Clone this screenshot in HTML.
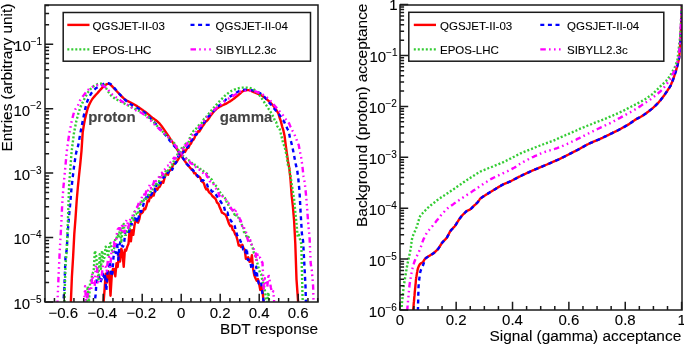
<!DOCTYPE html>
<html><head><meta charset="utf-8"><style>
html,body{margin:0;padding:0;background:#fff;width:684px;height:345px;overflow:hidden;position:relative}
</style></head><body>
<svg width="684" height="345" viewBox="0 0 684 345" style="position:absolute;left:0;top:0;will-change:transform">
<rect width="684" height="345" fill="#fff"/>
<defs>
<clipPath id="cl"><rect x="45.0" y="5.0" width="273.0" height="297.0"/></clipPath>
<clipPath id="cr"><rect x="400.0" y="5.0" width="282.0" height="305.0"/></clipPath>
</defs>
<g clip-path="url(#cl)">
<polyline points="70.7,306.0 71.9,276.7 73.1,257.0 74.3,233.9 75.5,218.3 76.7,200.5 77.9,186.6 79.1,174.8 80.3,163.5 81.5,150.8 82.7,132.4 83.9,124.8 85.1,118.6 86.3,113.6 87.5,109.2 88.7,105.8 89.9,103.2 91.1,101.0 92.3,99.0 93.5,97.5 94.7,96.1 95.9,94.8 97.1,93.5 98.3,92.1 99.5,90.7 100.7,89.4 101.9,88.1 103.1,86.9 104.3,85.8 105.5,84.9 106.7,84.2 107.9,83.9 109.1,83.9 110.3,84.5 111.5,85.6 112.7,86.9 113.9,88.2 115.1,89.5 116.3,90.7 117.5,92.0 118.7,93.3 119.9,94.6 121.1,95.9 122.3,97.0 123.5,98.1 124.7,99.1 125.9,100.0 127.1,100.8 128.3,101.4 129.5,102.0 130.7,102.6 131.9,103.2 133.1,103.9 134.3,104.5 135.5,105.2 136.7,105.9 137.9,106.8 139.1,107.6 140.3,108.4 141.5,109.3 142.7,110.1 143.9,111.0 145.1,111.8 146.3,112.7 147.5,113.7 148.7,114.7 149.9,115.7 151.1,116.8 152.3,117.7 153.5,118.5 154.7,119.4 155.9,120.3 157.1,121.2 158.3,122.3 159.5,123.4 160.7,124.9 161.9,126.5 163.1,128.2 164.3,129.9 165.5,131.6 166.7,133.4 167.9,135.2 169.1,137.0 170.3,138.8 171.5,140.6 172.7,142.4 173.9,144.3 175.1,146.3 176.3,148.2 177.5,150.1 178.7,151.9 179.9,154.2 181.1,155.2 182.3,157.4 183.5,159.1 184.7,160.9 185.9,162.5 187.1,164.0 188.3,165.8 189.5,166.9 190.7,168.4 191.9,169.2 193.1,171.2 194.3,173.3 195.5,173.2 196.7,175.6 197.9,176.8 199.1,176.5 200.3,177.8 201.5,181.0 202.7,182.0 203.9,183.3 205.1,187.1 206.3,189.4 207.5,188.8 208.7,191.8 209.9,193.1 211.1,194.0 212.3,196.0 213.5,197.0 214.7,198.1 215.9,199.6 217.1,202.8 218.3,203.5 219.5,206.7 220.7,209.4 221.9,212.7 223.1,213.1 224.3,214.0 225.5,214.7 226.7,217.1 227.9,220.5 229.1,224.0 230.3,226.1 231.5,225.7 232.7,229.9 233.9,230.9 235.1,234.2 236.3,235.9 237.5,240.3 238.7,245.5 239.9,245.2 241.1,247.0 242.3,244.7 243.5,248.3 244.7,249.5 245.9,258.9 247.1,258.1 248.3,257.3 249.5,261.8 250.7,261.4 251.9,255.1 253.1,268.9 254.3,275.3 255.5,278.3 256.7,280.8 257.9,279.1 259.1,283.5 260.3,290.0 261.5,286.6 262.7,292.6 263.9,306.0 264.0,306.0" fill="none" stroke="#ff0000" stroke-width="2.4" stroke-linejoin="round" stroke-linecap="butt"/>
<polyline points="100.9,306.0 102.1,306.0 103.3,306.0 104.5,290.7 105.7,273.7 106.9,282.6 108.1,271.2 109.3,273.7 110.5,295.8 111.7,276.4 112.9,269.0 114.1,269.0 115.3,276.4 116.5,263.2 117.7,266.9 118.9,254.3 120.1,261.5 121.3,248.6 122.5,253.0 123.7,266.9 124.9,249.6 126.1,250.7 127.3,246.6 128.5,243.8 129.7,229.1 130.9,241.3 132.1,230.2 133.3,234.9 134.5,225.3 135.7,220.3 136.9,221.5 138.1,222.7 139.3,219.2 140.5,213.0 141.7,213.3 142.9,211.9 144.1,208.5 145.3,209.2 146.5,205.7 147.7,200.6 148.9,201.3 150.1,195.5 151.3,197.4 152.5,194.5 153.7,195.6 154.9,190.3 156.1,188.5 157.3,189.8 158.5,187.5 159.7,186.7 160.9,184.3 162.1,181.7 163.3,182.7 164.5,178.2 165.7,174.8 166.9,173.4 168.1,174.8 169.3,170.4 170.5,170.3 171.7,168.8 172.9,165.2 174.1,163.8 175.3,162.9 176.5,162.2 177.7,160.2 178.9,158.2 180.1,155.7 181.3,155.6 182.5,153.0 183.7,150.0 184.9,152.0 186.1,150.1 187.3,147.9 188.5,147.8 189.7,144.8 190.9,143.7 192.1,140.8 193.3,140.0 194.5,137.9 195.7,134.8 196.9,134.1 198.1,131.2 199.3,131.5 200.5,129.7 201.7,127.6 202.9,125.7 204.1,124.2 205.3,122.1 206.5,121.3 207.7,120.0 208.9,118.4 210.1,116.3 211.3,114.7 212.5,113.2 213.7,111.8 214.9,110.5 216.1,109.3 217.3,108.2 218.5,107.4 219.7,106.7 220.9,106.1 222.1,105.5 223.3,105.0 224.5,104.4 225.7,103.9 226.9,103.2 228.1,102.5 229.3,101.8 230.5,101.1 231.7,100.3 232.9,99.4 234.1,98.5 235.3,97.5 236.5,96.6 237.7,95.6 238.9,94.5 240.1,93.5 241.3,92.4 242.5,91.4 243.7,90.8 244.9,90.4 246.1,90.2 247.3,90.1 248.5,90.1 249.7,90.4 250.9,90.8 252.1,91.4 253.3,91.9 254.5,92.5 255.7,93.0 256.9,93.5 258.1,94.0 259.3,94.5 260.5,95.0 261.7,95.5 262.9,96.3 264.1,97.2 265.3,98.1 266.5,99.1 267.7,100.1 268.9,101.2 270.1,102.4 271.3,103.6 272.5,104.8 273.7,106.2 274.9,107.9 276.1,109.7 277.3,111.6 278.5,113.8 279.7,118.0 280.9,121.4 282.1,126.3 283.3,130.1 284.5,135.4 285.7,145.0 286.9,153.7 288.1,161.8 289.3,168.3 290.5,179.4 291.7,195.9 292.9,206.6 294.1,220.7 295.3,243.8 296.5,279.3 297.7,295.8 298.4,306.0" fill="none" stroke="#ff0000" stroke-width="2.4" stroke-linejoin="round" stroke-linecap="butt"/>
<polyline points="63.1,306.0 64.3,290.0 65.5,257.3 66.7,249.8 67.9,230.2 69.1,215.2 70.3,203.0 71.5,188.0 72.7,177.7 73.9,167.6 75.1,159.2 76.3,152.1 77.5,148.5 78.7,142.9 79.9,135.6 81.1,129.2 82.3,123.1 83.5,117.1 84.7,111.1 85.9,106.1 87.1,101.8 88.3,99.0 89.5,96.5 90.7,94.2 91.9,92.5 93.1,91.0 94.3,89.7 95.5,88.6 96.7,87.8 97.9,87.0 99.1,86.3 100.3,85.7 101.5,85.1 102.7,84.5 103.9,83.9 105.1,83.5 106.3,83.2 107.5,83.1 108.7,83.3 109.9,83.7 111.1,84.5 112.3,85.6 113.5,87.0 114.7,88.4 115.9,89.8 117.1,91.3 118.3,92.6 119.5,94.0 120.7,95.3 121.9,96.6 123.1,97.9 124.3,99.1 125.5,100.2 126.7,101.3 127.9,102.3 129.1,103.3 130.3,104.1 131.5,104.7 132.7,105.4 133.9,106.0 135.1,106.6 136.3,107.3 137.5,108.0 138.7,108.7 139.9,109.4 141.1,110.2 142.3,111.0 143.5,111.8 144.7,112.7 145.9,113.5 147.1,114.6 148.3,115.8 149.5,117.2 150.7,118.5 151.9,119.8 153.1,121.0 154.3,122.2 155.5,123.5 156.7,124.9 157.9,126.5 159.1,127.9 160.3,129.3 161.5,130.7 162.7,132.0 163.9,133.3 165.1,134.6 166.3,136.1 167.5,137.7 168.7,139.2 169.9,140.8 171.1,142.3 172.3,143.7 173.5,145.1 174.7,146.4 175.9,147.8 177.1,149.3 178.3,151.0 179.5,152.7 180.7,153.8 181.9,156.4 183.1,158.4 184.3,159.8 185.5,162.5 186.7,164.1 187.9,165.0 189.1,166.1 190.3,167.7 191.5,169.6 192.7,169.8 193.9,171.3 195.1,173.6 196.3,174.6 197.5,175.5 198.7,177.7 199.9,178.7 201.1,180.7 202.3,180.2 203.5,180.4 204.7,181.9 205.9,183.8 207.1,184.5 208.3,188.6 209.5,189.3 210.7,189.8 211.9,191.5 213.1,191.7 214.3,194.2 215.5,194.2 216.7,195.8 217.9,197.7 219.1,199.1 220.3,201.0 221.5,202.9 222.7,204.8 223.9,206.1 225.1,211.2 226.3,213.0 227.5,212.5 228.7,217.7 229.9,219.1 231.1,220.9 232.3,222.9 233.5,224.0 234.7,226.0 235.9,230.8 237.1,234.9 238.3,237.4 239.5,238.3 240.7,241.8 241.9,242.4 243.1,249.5 244.3,249.5 245.5,252.5 246.7,248.1 247.9,260.1 249.1,260.1 250.3,261.0 251.5,269.4 252.7,265.1 253.9,268.9 255.1,276.7 256.3,266.7 257.5,278.3 258.7,283.5 259.9,283.5 261.1,281.7 262.3,292.6 263.5,300.2 264.0,306.0" fill="none" stroke="#0000ff" stroke-width="2.4" stroke-linejoin="round" stroke-linecap="butt" stroke-dasharray="4 3.6"/>
<polyline points="94.3,306.0 95.5,295.8 96.7,279.3 97.9,279.3 99.1,276.4 100.3,282.6 101.5,279.3 102.7,273.7 103.9,279.3 105.1,273.7 106.3,290.7 107.5,271.2 108.7,269.0 109.9,261.5 111.1,276.4 112.3,273.7 113.5,257.0 114.7,251.8 115.9,253.0 117.1,242.1 118.3,259.9 119.5,244.7 120.7,241.3 121.9,245.6 123.1,246.6 124.3,241.3 125.5,230.2 126.7,229.7 127.9,231.9 129.1,231.9 130.3,224.4 131.5,224.0 132.7,224.4 133.9,222.3 135.1,216.5 136.3,216.1 137.5,222.3 138.7,217.1 139.9,211.3 141.1,211.9 142.3,209.7 143.5,204.1 144.7,201.7 145.9,197.5 147.1,200.2 148.3,195.3 149.5,192.8 150.7,195.1 151.9,193.8 153.1,189.5 154.3,188.8 155.5,191.4 156.7,183.6 157.9,181.0 159.1,182.3 160.3,183.3 161.5,180.1 162.7,179.3 163.9,176.3 165.1,176.8 166.3,175.7 167.5,173.2 168.7,171.9 169.9,169.7 171.1,167.8 172.3,169.7 173.5,166.4 174.7,164.4 175.9,162.7 177.1,160.0 178.3,156.4 179.5,154.1 180.7,151.9 181.9,153.2 183.1,152.3 184.3,151.2 185.5,150.2 186.7,148.3 187.9,146.5 189.1,145.3 190.3,143.4 191.5,140.4 192.7,138.9 193.9,137.2 195.1,134.8 196.3,134.7 197.5,132.3 198.7,129.8 199.9,128.7 201.1,127.6 202.3,124.3 203.5,123.1 204.7,121.7 205.9,120.4 207.1,118.1 208.3,116.5 209.5,115.7 210.7,114.3 211.9,113.0 213.1,111.6 214.3,110.3 215.5,109.0 216.7,107.7 217.9,106.5 219.1,105.5 220.3,104.7 221.5,103.8 222.7,102.9 223.9,101.8 225.1,100.5 226.3,99.2 227.5,98.3 228.7,97.4 229.9,96.6 231.1,95.9 232.3,95.1 233.5,94.3 234.7,93.6 235.9,92.9 237.1,92.2 238.3,91.5 239.5,90.9 240.7,90.5 241.9,90.2 243.1,90.0 244.3,89.8 245.5,89.6 246.7,89.5 247.9,89.6 249.1,89.7 250.3,89.9 251.5,90.1 252.7,90.4 253.9,90.7 255.1,91.1 256.3,91.5 257.5,92.0 258.7,92.5 259.9,93.1 261.1,93.9 262.3,94.8 263.5,95.9 264.7,97.2 265.9,98.5 267.1,100.0 268.3,101.4 269.5,102.9 270.7,104.3 271.9,105.8 273.1,107.2 274.3,108.7 275.5,110.1 276.7,111.6 277.9,113.0 279.1,114.5 280.3,116.0 281.5,118.3 282.7,120.2 283.9,121.1 285.1,123.9 286.3,126.2 287.5,129.1 288.7,130.8 289.9,137.6 291.1,141.8 292.3,146.5 293.5,152.5 294.7,158.7 295.9,164.9 297.1,169.6 298.3,178.6 299.5,191.4 300.7,213.9 301.9,233.6 303.1,241.3 304.3,263.2 305.5,286.3 306.0,306.0" fill="none" stroke="#0000ff" stroke-width="2.4" stroke-linejoin="round" stroke-linecap="butt" stroke-dasharray="4 3.6"/>
<polyline points="64.3,306.0 65.5,265.1 66.7,251.5 67.9,221.8 69.1,185.5 70.3,169.4 71.5,152.8 72.7,143.0 73.9,133.5 75.1,127.1 76.3,121.3 77.5,116.6 78.7,112.2 79.9,108.8 81.1,105.7 82.3,103.1 83.5,100.7 84.7,98.3 85.9,96.1 87.1,93.9 88.3,91.8 89.5,90.2 90.7,88.9 91.9,87.7 93.1,86.7 94.3,85.8 95.5,85.2 96.7,84.6 97.9,84.0 99.1,83.7 100.3,83.6 101.5,83.7 102.7,83.9 103.9,84.7 105.1,86.3 106.3,88.5 107.5,90.6 108.7,92.4 109.9,94.0 111.1,95.5 112.3,96.8 113.5,97.6 114.7,98.4 115.9,99.1 117.1,99.8 118.3,100.4 119.5,101.0 120.7,101.6 121.9,102.3 123.1,102.9 124.3,103.5 125.5,104.1 126.7,104.7 127.9,105.3 129.1,105.9 130.3,106.5 131.5,107.1 132.7,107.7 133.9,108.3 135.1,108.9 136.3,109.5 137.5,110.1 138.7,110.7 139.9,111.3 141.1,112.0 142.3,112.7 143.5,113.6 144.7,114.4 145.9,115.3 147.1,116.2 148.3,117.1 149.5,118.0 150.7,119.0 151.9,120.1 153.1,121.3 154.3,122.7 155.5,124.1 156.7,125.5 157.9,126.8 159.1,128.0 160.3,129.2 161.5,130.4 162.7,131.6 163.9,132.8 165.1,134.0 166.3,135.2 167.5,136.4 168.7,137.6 169.9,138.8 171.1,140.0 172.3,141.3 173.5,142.5 174.7,143.7 175.9,145.3 177.1,147.4 178.3,149.8 179.5,152.1 180.7,153.2 181.9,155.4 183.1,156.0 184.3,157.2 185.5,157.5 186.7,159.0 187.9,160.7 189.1,160.4 190.3,161.5 191.5,162.6 192.7,163.9 193.9,163.4 195.1,165.5 196.3,165.6 197.5,166.9 198.7,166.7 199.9,168.2 201.1,170.2 202.3,170.3 203.5,171.2 204.7,172.0 205.9,172.7 207.1,173.9 208.3,176.3 209.5,178.3 210.7,178.5 211.9,179.8 213.1,182.6 214.3,184.3 215.5,185.4 216.7,186.5 217.9,188.6 219.1,191.2 220.3,192.7 221.5,194.9 222.7,195.7 223.9,195.9 225.1,198.3 226.3,201.6 227.5,201.6 228.7,206.6 229.9,207.7 231.1,208.4 232.3,208.7 233.5,212.5 234.7,214.8 235.9,213.8 237.1,218.0 238.3,217.6 239.5,219.8 240.7,222.7 241.9,225.0 243.1,225.7 244.3,234.2 245.5,232.4 246.7,238.1 247.9,234.9 249.1,239.3 250.3,241.6 251.5,244.5 252.7,247.8 253.9,253.1 255.1,254.8 256.3,258.9 257.5,263.7 258.7,268.3 259.9,272.5 261.1,273.9 262.3,279.9 263.5,283.5 264.7,288.8 265.9,298.5 267.1,302.0 268.3,292.6 269.5,306.0 269.6,306.0" fill="none" stroke="#33cc33" stroke-width="2.4" stroke-linejoin="round" stroke-linecap="butt" stroke-dasharray="2 2"/>
<polyline points="86.5,306.0 87.7,286.3 88.9,302.0 90.1,282.6 91.3,279.3 92.5,273.7 93.7,271.2 94.9,250.7 96.1,255.6 97.3,266.9 98.5,279.3 99.7,254.3 100.9,269.0 102.1,250.7 103.3,261.5 104.5,257.0 105.7,246.6 106.9,249.6 108.1,257.0 109.3,245.6 110.5,242.9 111.7,249.6 112.9,253.0 114.1,248.6 115.3,238.3 116.5,238.3 117.7,234.3 118.9,237.6 120.1,227.1 121.3,242.9 122.5,229.1 123.7,224.0 124.9,234.9 126.1,234.9 127.3,230.2 128.5,226.2 129.7,229.1 130.9,221.5 132.1,217.8 133.3,220.3 134.5,211.9 135.7,210.8 136.9,214.2 138.1,214.5 139.3,202.5 140.5,204.3 141.7,201.3 142.9,202.9 144.1,199.6 145.3,200.0 146.5,198.1 147.7,196.6 148.9,194.7 150.1,192.8 151.3,189.1 152.5,189.3 153.7,186.0 154.9,183.2 156.1,183.8 157.3,182.8 158.5,185.1 159.7,177.2 160.9,177.5 162.1,175.3 163.3,176.8 164.5,176.0 165.7,171.1 166.9,172.4 168.1,170.3 169.3,169.6 170.5,166.0 171.7,164.4 172.9,164.6 174.1,160.1 175.3,159.1 176.5,156.4 177.7,153.9 178.9,152.9 180.1,152.1 181.3,148.9 182.5,146.4 183.7,147.7 184.9,144.7 186.1,143.5 187.3,143.2 188.5,142.7 189.7,138.2 190.9,134.7 192.1,134.0 193.3,131.2 194.5,130.4 195.7,129.3 196.9,127.5 198.1,126.1 199.3,124.7 200.5,123.2 201.7,122.9 202.9,120.5 204.1,119.0 205.3,118.6 206.5,116.6 207.7,115.1 208.9,113.6 210.1,112.1 211.3,110.6 212.5,109.2 213.7,107.8 214.9,106.4 216.1,105.0 217.3,103.6 218.5,102.3 219.7,101.1 220.9,99.9 222.1,98.7 223.3,97.5 224.5,96.2 225.7,95.1 226.9,94.1 228.1,93.2 229.3,92.4 230.5,91.6 231.7,90.8 232.9,90.2 234.1,89.7 235.3,89.3 236.5,88.9 237.7,88.6 238.9,88.2 240.1,87.9 241.3,87.7 242.5,87.6 243.7,87.6 244.9,87.6 246.1,87.6 247.3,87.6 248.5,87.7 249.7,87.9 250.9,88.3 252.1,88.8 253.3,89.3 254.5,89.9 255.7,90.9 256.9,92.2 258.1,93.6 259.3,95.1 260.5,96.6 261.7,98.3 262.9,100.2 264.1,102.0 265.3,103.9 266.5,105.7 267.7,107.5 268.9,109.3 270.1,111.1 271.3,113.1 272.5,115.3 273.7,117.4 274.9,121.1 276.1,121.9 277.3,126.3 278.5,127.3 279.7,129.2 280.9,134.0 282.1,138.7 283.3,143.9 284.5,146.1 285.7,151.5 286.9,157.0 288.1,166.1 289.3,168.5 290.5,175.8 291.7,184.1 292.9,191.7 294.1,199.3 295.3,212.2 296.5,223.5 297.7,236.9 298.9,234.9 300.1,239.7 301.3,243.8 302.5,295.8 303.0,306.0" fill="none" stroke="#33cc33" stroke-width="2.4" stroke-linejoin="round" stroke-linecap="butt" stroke-dasharray="2 2"/>
<polyline points="57.3,306.0 58.5,277.5 59.7,251.8 60.9,230.6 62.1,206.7 63.3,188.5 64.5,176.0 65.7,162.9 66.9,150.5 68.1,141.7 69.3,133.4 70.5,127.1 71.7,121.3 72.9,116.4 74.1,111.8 75.3,109.3 76.5,107.8 77.7,106.1 78.9,103.3 80.1,100.3 81.3,98.2 82.5,96.7 83.7,95.3 84.9,93.8 86.1,92.2 87.3,90.7 88.5,89.5 89.7,88.5 90.9,87.7 92.1,87.0 93.3,86.5 94.5,86.1 95.7,85.7 96.9,85.3 98.1,85.0 99.3,84.8 100.5,84.8 101.7,85.1 102.9,85.6 104.1,86.3 105.3,87.2 106.5,88.3 107.7,89.4 108.9,90.7 110.1,92.1 111.3,93.5 112.5,94.6 113.7,95.6 114.9,96.4 116.1,97.3 117.3,98.1 118.5,99.0 119.7,99.8 120.9,100.7 122.1,101.5 123.3,102.3 124.5,103.1 125.7,103.8 126.9,104.5 128.1,105.3 129.3,106.0 130.5,106.8 131.7,107.6 132.9,108.5 134.1,109.3 135.3,110.0 136.5,110.6 137.7,111.1 138.9,111.7 140.1,112.2 141.3,112.8 142.5,113.5 143.7,114.3 144.9,115.3 146.1,116.3 147.3,117.3 148.5,118.4 149.7,119.5 150.9,120.7 152.1,122.0 153.3,123.3 154.5,124.5 155.7,125.7 156.9,126.8 158.1,127.9 159.3,129.0 160.5,130.1 161.7,131.2 162.9,132.3 164.1,133.4 165.3,134.5 166.5,135.6 167.7,136.7 168.9,137.9 170.1,139.2 171.3,140.6 172.5,142.0 173.7,143.4 174.9,144.9 176.1,146.5 177.3,148.5 178.5,150.7 179.7,152.7 180.9,154.7 182.1,155.3 183.3,156.6 184.5,157.4 185.7,158.6 186.9,159.4 188.1,161.0 189.3,161.2 190.5,163.2 191.7,163.8 192.9,164.5 194.1,166.6 195.3,166.5 196.5,167.7 197.7,169.8 198.9,169.8 200.1,169.9 201.3,171.5 202.5,172.4 203.7,174.0 204.9,175.3 206.1,174.0 207.3,177.0 208.5,177.7 209.7,181.2 210.9,181.4 212.1,183.0 213.3,183.5 214.5,186.1 215.7,188.1 216.9,189.5 218.1,191.5 219.3,195.9 220.5,194.4 221.7,194.3 222.9,197.0 224.1,199.3 225.3,199.4 226.5,200.6 227.7,203.5 228.9,203.5 230.1,205.2 231.3,208.8 232.5,210.4 233.7,207.4 234.9,212.6 236.1,210.2 237.3,214.8 238.5,215.4 239.7,218.7 240.9,220.9 242.1,226.1 243.3,224.7 244.5,229.2 245.7,230.5 246.9,236.6 248.1,240.9 249.3,243.1 250.5,240.3 251.7,244.5 252.9,246.5 254.1,249.8 255.3,250.6 256.5,261.0 257.7,254.5 258.9,257.7 260.1,257.7 261.3,261.0 262.5,262.7 263.7,288.8 264.9,278.3 266.1,282.6 267.3,286.6 268.5,273.9 269.7,280.8 270.9,287.7 272.1,292.6 273.3,291.3 274.5,306.0 274.8,306.0" fill="none" stroke="#ff00ff" stroke-width="2.4" stroke-linejoin="round" stroke-linecap="butt" stroke-dasharray="5.5 3.2 1.6 3.4 1.6 3.4 1.6 3.3"/>
<polyline points="83.9,306.0 85.1,286.3 86.3,306.0 87.5,295.8 88.7,290.7 89.9,286.3 91.1,290.7 92.3,273.7 93.5,282.6 94.7,286.3 95.9,265.0 97.1,269.0 98.3,282.6 99.5,282.6 100.7,279.3 101.9,273.7 103.1,265.0 104.3,266.9 105.5,266.9 106.7,271.2 107.9,259.9 109.1,257.0 110.3,266.9 111.5,251.8 112.7,253.0 113.9,242.1 115.1,247.5 116.3,237.6 117.5,229.7 118.7,228.1 119.9,228.1 121.1,232.4 122.3,223.5 123.5,231.3 124.7,232.4 125.9,221.5 127.1,219.6 128.3,228.1 129.5,220.7 130.7,219.2 131.9,217.5 133.1,214.5 134.3,214.2 135.5,209.2 136.7,207.7 137.9,205.7 139.1,201.9 140.3,203.3 141.5,198.9 142.7,193.9 143.9,194.4 145.1,197.1 146.3,190.2 147.5,191.9 148.7,188.0 149.9,184.3 151.1,188.5 152.3,185.6 153.5,183.6 154.7,178.8 155.9,181.0 157.1,179.3 158.3,178.2 159.5,175.8 160.7,178.2 161.9,172.7 163.1,175.1 164.3,169.9 165.5,168.6 166.7,166.2 167.9,165.6 169.1,165.9 170.3,162.7 171.5,162.2 172.7,159.9 173.9,157.7 175.1,158.8 176.3,155.6 177.5,156.3 178.7,155.0 179.9,153.1 181.1,153.7 182.3,148.7 183.5,149.0 184.7,145.5 185.9,145.8 187.1,144.0 188.3,140.7 189.5,139.7 190.7,138.8 191.9,135.8 193.1,134.7 194.3,133.0 195.5,132.8 196.7,131.0 197.9,129.9 199.1,126.9 200.3,126.0 201.5,124.9 202.7,123.2 203.9,121.1 205.1,120.2 206.3,118.4 207.5,116.6 208.7,115.7 209.9,114.4 211.1,113.2 212.3,112.0 213.5,110.8 214.7,109.6 215.9,108.4 217.1,107.3 218.3,106.4 219.5,105.4 220.7,104.5 221.9,103.5 223.1,102.6 224.3,101.7 225.5,100.8 226.7,99.9 227.9,99.1 229.1,98.3 230.3,97.6 231.5,96.9 232.7,96.1 233.9,95.4 235.1,94.7 236.3,94.0 237.5,93.3 238.7,92.5 239.9,91.9 241.1,91.4 242.3,91.1 243.5,90.9 244.7,90.7 245.9,90.6 247.1,90.6 248.3,90.6 249.5,90.7 250.7,90.8 251.9,90.9 253.1,91.0 254.3,91.2 255.5,91.4 256.7,91.9 257.9,92.4 259.1,92.9 260.3,93.4 261.5,93.9 262.7,94.5 263.9,95.3 265.1,96.1 266.3,97.0 267.5,97.9 268.7,98.9 269.9,100.1 271.1,101.5 272.3,102.9 273.5,104.3 274.7,105.7 275.9,107.1 277.1,108.5 278.3,109.9 279.5,111.3 280.7,112.7 281.9,114.1 283.1,115.5 284.3,117.4 285.5,118.9 286.7,120.7 287.9,122.0 289.1,123.4 290.3,126.4 291.5,128.1 292.7,131.2 293.9,132.7 295.1,136.1 296.3,138.8 297.5,142.8 298.7,144.9 299.9,151.4 301.1,157.1 302.3,165.4 303.5,176.2 304.7,182.5 305.9,193.6 307.1,208.0 308.3,224.8 309.5,236.2 310.7,263.2 311.9,271.2 313.1,286.3 313.7,306.0" fill="none" stroke="#ff00ff" stroke-width="2.4" stroke-linejoin="round" stroke-linecap="butt" stroke-dasharray="5.5 3.2 1.6 3.4 1.6 3.4 1.6 3.3"/>
</g>
<g clip-path="url(#cr)">
<polyline points="413.1,311.0 413.2,309.6 413.3,308.2 413.5,306.8 413.6,305.4 413.7,304.0 413.8,302.6 414.0,301.2 414.1,299.8 414.2,298.4 414.3,297.1 414.5,295.7 414.6,294.3 414.7,292.9 414.8,291.5 415.0,290.1 415.1,288.7 415.3,287.3 415.4,285.9 415.5,284.5 415.7,283.1 415.8,281.7 415.9,280.3 416.1,278.9 416.2,277.5 416.5,276.2 416.7,274.8 416.9,273.4 417.2,272.0 417.4,270.7 417.7,269.3 418.1,267.9 418.6,266.6 419.2,265.4 419.8,264.2 420.8,263.4 422.0,262.9 423.0,262.1 423.7,261.0 424.3,259.8 425.2,258.7 426.2,257.8 427.4,257.0 428.6,256.3 429.8,255.6 431.0,254.8 432.2,254.1 433.4,253.4 434.4,252.5 435.5,251.5 436.4,250.6 437.4,249.6 438.4,248.5 439.2,247.4 439.9,246.2 440.7,245.0 441.4,243.8 442.2,242.7 443.1,241.6 444.1,240.6 445.1,239.6 446.0,238.6 446.9,237.6 447.6,236.4 448.2,235.1 448.9,233.9 449.5,232.6 450.2,231.4 451.0,230.3 451.9,229.3 452.9,228.2 453.9,227.2 454.8,226.2 455.6,225.0 456.3,223.9 457.1,222.7 457.8,221.5 458.5,220.3 459.3,219.1 460.2,218.0 461.0,216.9 461.9,215.8 462.8,214.7 463.8,213.8 464.8,212.8 465.8,211.8 466.9,211.0 468.1,210.4 469.4,209.9 470.6,209.1 471.6,208.2 472.6,207.2 473.6,206.2 474.6,205.2 475.6,204.3 476.6,203.3 477.6,202.3 478.4,201.2 479.2,200.1 480.0,198.9 481.0,198.0 482.2,197.2 483.3,196.5 484.5,195.7 485.7,194.9 486.9,194.2 488.1,193.4 489.3,192.7 490.5,192.0 491.7,191.3 492.9,190.5 494.1,189.8 495.3,189.1 496.5,188.4 497.6,187.6 498.8,186.9 500.0,186.2 501.2,185.5 502.5,184.8 503.7,184.1 505.0,183.6 506.3,183.1 507.6,182.6 508.9,182.0 510.1,181.4 511.4,180.8 512.6,180.2 513.9,179.5 515.1,178.9 516.4,178.2 517.6,177.6 518.8,176.9 520.1,176.3 521.3,175.7 522.6,175.1 523.9,174.5 525.2,173.9 526.4,173.3 527.7,172.7 529.0,172.1 530.2,171.5 531.5,171.0 532.8,170.4 534.1,169.9 535.4,169.3 536.7,168.8 538.0,168.3 539.3,167.7 540.6,167.2 541.8,166.7 543.1,166.1 544.4,165.6 545.7,165.0 547.0,164.5 548.3,163.9 549.6,163.4 550.9,162.8 552.1,162.2 553.4,161.7 554.7,161.1 556.0,160.6 557.3,160.0 558.6,159.4 559.8,158.9 561.1,158.2 562.3,157.6 563.6,157.0 564.8,156.4 566.1,155.7 567.3,155.1 568.6,154.5 569.8,153.8 571.1,153.2 572.3,152.6 573.6,151.9 574.8,151.3 576.1,150.7 577.3,150.0 578.6,149.4 579.8,148.7 581.0,148.0 582.2,147.3 583.5,146.7 584.7,146.0 585.9,145.3 587.1,144.6 588.4,144.0 589.6,143.4 590.9,142.8 592.2,142.3 593.5,141.7 594.8,141.2 596.1,140.6 597.4,140.1 598.7,139.6 599.9,139.0 601.2,138.4 602.5,137.8 603.7,137.2 605.0,136.6 606.3,136.0 607.5,135.4 608.8,134.8 610.0,134.1 611.3,133.5 612.6,132.9 613.8,132.3 615.1,131.7 616.3,131.1 617.6,130.5 618.8,129.8 620.1,129.2 621.3,128.5 622.5,127.8 623.7,127.1 625.0,126.5 626.2,125.8 627.4,125.1 628.6,124.4 629.8,123.6 630.9,122.8 632.1,122.0 633.2,121.2 634.3,120.4 635.5,119.6 636.7,118.9 637.9,118.2 639.2,117.6 640.4,117.0 641.7,116.3 642.8,115.5 644.0,114.7 645.1,114.0 646.3,113.2 647.4,112.3 648.5,111.5 649.6,110.6 650.7,109.7 651.8,108.9 652.9,108.0 653.9,107.0 654.9,106.1 655.9,105.1 656.9,104.1 657.9,103.1 658.9,102.1 659.8,101.0 660.7,99.9 661.5,98.8 662.4,97.7 663.3,96.6 664.1,95.5 664.9,94.3 665.7,93.2 666.5,92.0 667.3,90.9 668.0,89.7 668.8,88.5 669.6,87.4 670.3,86.2 670.9,84.9 671.4,83.6 672.0,82.3 672.5,81.0 673.0,79.7 673.5,78.4 673.9,77.1 674.3,75.8 674.8,74.4 675.2,73.1 675.7,71.8 676.1,70.4 676.4,69.1 676.8,67.7 677.2,66.4 677.6,65.0 677.9,63.7 678.2,62.3 678.5,60.9 678.8,59.6 679.1,58.2 679.3,56.8 679.4,55.4 679.5,54.0 679.6,52.6 679.7,51.2 679.8,49.8 679.9,48.4 680.0,47.0 680.1,45.6 680.2,44.3 680.3,42.9 680.4,41.5 680.5,40.1 680.6,38.7 680.6,37.3 680.7,35.9 680.7,34.5 680.8,33.1 680.9,31.7 680.9,30.3 681.0,28.9 681.1,27.5 681.1,26.1 681.2,24.7 681.3,23.3 681.3,21.9 681.4,20.5 681.4,19.1 681.5,17.7 681.5,16.3 681.5,14.9 681.6,13.5 681.6,12.1 681.6,10.7 681.7,9.3 681.7,7.9 681.8,6.5 681.8,5.3 681.8,4.6" fill="none" stroke="#ff0000" stroke-width="2.4" stroke-linejoin="round" stroke-linecap="butt"/>
<polyline points="417.9,311.0 417.9,309.6 418.0,308.2 418.0,306.8 418.0,305.4 418.1,304.0 418.1,302.6 418.2,301.2 418.2,299.8 418.2,298.4 418.3,297.0 418.3,295.6 418.3,294.2 418.4,292.8 418.4,291.4 418.5,290.0 418.5,288.6 418.5,287.2 418.6,285.8 418.7,284.4 418.8,283.0 419.0,281.6 419.2,280.2 419.3,278.9 419.5,277.5 419.7,276.1 419.8,274.7 420.0,273.3 420.3,271.9 420.7,270.6 421.2,269.3 421.8,268.0 422.3,266.7 422.9,265.5 423.4,264.2 423.9,262.8 424.2,261.5 424.5,260.1 425.1,258.9 426.0,258.0 427.2,257.2 428.3,256.4 429.5,255.7 430.7,255.0 431.9,254.3 433.1,253.5 434.2,252.7 435.2,251.7 436.2,250.8 437.2,249.8 438.2,248.8 439.0,247.7 439.8,246.5 440.5,245.3 441.2,244.1 442.0,242.9 442.9,241.8 443.9,240.8 444.8,239.9 445.8,238.9 446.7,237.8 447.4,236.6 448.1,235.4 448.7,234.1 449.3,232.9 450.0,231.6 450.8,230.5 451.7,229.5 452.7,228.5 453.7,227.4 454.6,226.4 455.4,225.3 456.2,224.1 456.9,222.9 457.6,221.7 458.4,220.5 459.2,219.4 460.0,218.2 460.8,217.1 461.7,216.0 462.6,215.0 463.6,214.0 464.6,213.0 465.6,212.0 466.6,211.1 467.9,210.5 469.2,210.0 470.3,209.3 471.4,208.4 472.4,207.4 473.4,206.4 474.4,205.5 475.4,204.5 476.4,203.5 477.4,202.5 478.3,201.5 479.1,200.3 479.8,199.2 480.8,198.2 481.9,197.4 483.1,196.6 484.3,195.8 485.4,195.1 486.6,194.3 487.8,193.6 489.0,192.9 490.2,192.1 491.4,191.4 492.6,190.7 493.8,190.0 495.0,189.3 496.2,188.5 497.4,187.8 498.6,187.1 499.8,186.4 501.0,185.6 502.2,184.9 503.4,184.3 504.7,183.7 506.0,183.2 507.3,182.7 508.6,182.1 509.9,181.6 511.1,180.9 512.4,180.3 513.6,179.7 514.9,179.0 516.1,178.4 517.3,177.7 518.6,177.1 519.8,176.4 521.1,175.8 522.3,175.2 523.6,174.6 524.9,174.0 526.2,173.4 527.4,172.8 528.7,172.3 530.0,171.7 531.2,171.1 532.5,170.5 533.8,170.0 535.1,169.4 536.4,168.9 537.7,168.4 539.0,167.8 540.3,167.3 541.6,166.8 542.9,166.2 544.2,165.7 545.4,165.1 546.7,164.6 548.0,164.0 549.3,163.5 550.6,162.9 551.9,162.4 553.2,161.8 554.4,161.3 555.7,160.7 557.0,160.1 558.3,159.6 559.6,159.0 560.8,158.4 562.1,157.8 563.3,157.1 564.6,156.5 565.8,155.9 567.1,155.2 568.3,154.6 569.6,154.0 570.8,153.3 572.1,152.7 573.3,152.1 574.6,151.4 575.8,150.8 577.1,150.2 578.3,149.5 579.5,148.8 580.7,148.2 582.0,147.5 583.2,146.8 584.4,146.1 585.7,145.4 586.9,144.8 588.1,144.1 589.4,143.5 590.6,142.9 591.9,142.4 593.2,141.8 594.5,141.3 595.8,140.8 597.1,140.2 598.4,139.7 599.7,139.1 600.9,138.5 602.2,137.9 603.5,137.3 604.7,136.7 606.0,136.1 607.2,135.5 608.5,134.9 609.8,134.3 611.0,133.7 612.3,133.1 613.5,132.4 614.8,131.8 616.1,131.2 617.3,130.6 618.6,130.0 619.8,129.3 621.0,128.6 622.3,128.0 623.5,127.3 624.7,126.6 625.9,125.9 627.1,125.2 628.4,124.5 629.5,123.8 630.7,123.0 631.8,122.2 633.0,121.3 634.1,120.5 635.2,119.7 636.4,119.0 637.7,118.4 638.9,117.7 640.2,117.1 641.4,116.4 642.6,115.7 643.8,114.9 644.9,114.1 646.1,113.3 647.2,112.5 648.3,111.7 649.4,110.8 650.5,109.9 651.6,109.1 652.7,108.2 653.7,107.2 654.7,106.3 655.7,105.3 656.7,104.3 657.7,103.3 658.7,102.3 659.6,101.2 660.5,100.2 661.4,99.1 662.2,98.0 663.1,96.9 663.9,95.7 664.7,94.6 665.5,93.4 666.3,92.3 667.1,91.1 667.9,90.0 668.6,88.8 669.4,87.6 670.2,86.4 670.8,85.2 671.3,83.9 671.9,82.6 672.4,81.3 672.9,80.0 673.4,78.7 673.8,77.4 674.3,76.0 674.7,74.7 675.1,73.4 675.6,72.1 676.0,70.7 676.4,69.4 676.7,68.0 677.1,66.7 677.5,65.3 677.8,64.0 678.2,62.6 678.4,61.2 678.7,59.9 679.0,58.5 679.2,57.1 679.3,55.7 679.4,54.3 679.6,52.9 679.7,51.5 679.8,50.1 679.9,48.7 680.0,47.3 680.1,45.9 680.2,44.5 680.3,43.2 680.4,41.8 680.5,40.4 680.5,39.0 680.6,37.6 680.7,36.2 680.7,34.8 680.8,33.4 680.9,32.0 680.9,30.6 681.0,29.2 681.1,27.8 681.1,26.4 681.2,25.0 681.2,23.6 681.3,22.2 681.4,20.8 681.4,19.4 681.5,18.0 681.5,16.6 681.5,15.2 681.6,13.8 681.6,12.4 681.6,11.0 681.7,9.6 681.7,8.2 681.7,6.8 681.8,5.5 681.8,4.6 681.8,4.6" fill="none" stroke="#0000ff" stroke-width="2.4" stroke-linejoin="round" stroke-linecap="butt" stroke-dasharray="4 3.6"/>
<polyline points="401.2,311.0 401.4,309.3 401.5,308.1 401.6,306.8 401.8,305.4 401.9,304.0 402.0,302.6 402.2,301.2 402.3,299.9 402.5,298.5 402.6,297.1 402.7,295.7 402.9,294.3 403.0,292.9 403.2,291.5 403.3,290.1 403.5,288.7 403.6,287.3 403.8,285.9 404.0,284.6 404.2,283.2 404.5,281.8 404.7,280.4 404.9,279.0 405.1,277.6 405.4,276.3 405.6,274.9 405.8,273.5 406.1,272.1 406.3,270.7 406.5,269.4 406.7,268.0 407.0,266.6 407.2,265.2 407.5,263.8 407.8,262.5 408.1,261.1 408.4,259.7 408.7,258.4 409.0,257.0 409.3,255.6 409.6,254.3 409.9,252.9 410.1,251.5 410.4,250.2 410.7,248.8 410.9,247.4 411.0,246.0 411.2,244.6 411.4,243.2 411.5,241.8 411.7,240.5 412.0,239.1 412.3,237.7 412.7,236.4 413.2,235.1 413.8,233.8 414.4,232.6 414.9,231.3 415.5,230.0 416.0,228.7 416.5,227.4 417.0,226.1 417.4,224.7 417.8,223.4 418.2,222.1 418.6,220.7 419.0,219.4 419.4,218.0 419.9,216.8 420.5,215.6 421.3,214.5 422.3,213.5 423.2,212.5 424.2,211.5 425.2,210.5 426.2,209.5 427.2,208.5 428.2,207.5 429.2,206.6 430.3,205.7 431.4,204.8 432.5,203.9 433.6,203.1 434.7,202.2 435.8,201.4 436.9,200.5 438.0,199.6 439.1,198.8 440.3,198.0 441.4,197.2 442.6,196.4 443.8,195.7 444.9,194.9 446.1,194.1 447.3,193.4 448.5,192.6 449.6,191.9 450.8,191.1 452.0,190.3 453.1,189.5 454.3,188.7 455.4,187.9 456.6,187.1 457.7,186.3 458.9,185.5 460.0,184.7 461.2,183.9 462.3,183.1 463.5,182.3 464.7,181.6 465.8,180.8 467.0,180.0 468.2,179.3 469.3,178.5 470.5,177.7 471.7,177.0 472.9,176.2 474.0,175.5 475.2,174.7 476.4,173.9 477.6,173.2 478.8,172.5 480.0,171.8 481.2,171.2 482.5,170.6 483.8,170.1 485.1,169.6 486.4,169.1 487.7,168.5 489.0,168.0 490.3,167.5 491.6,167.0 492.9,166.5 494.2,165.9 495.5,165.4 496.8,164.9 498.1,164.4 499.4,163.8 500.7,163.3 502.0,162.8 503.3,162.2 504.5,161.6 505.8,161.0 507.0,160.3 508.3,159.7 509.5,159.0 510.8,158.4 512.0,157.7 513.2,157.1 514.5,156.5 515.7,155.8 517.0,155.2 518.2,154.5 519.5,153.9 520.7,153.3 522.0,152.8 523.3,152.3 524.6,151.7 525.9,151.2 527.2,150.7 528.5,150.1 529.8,149.6 531.1,149.1 532.4,148.6 533.7,148.1 535.0,147.5 536.3,147.0 537.6,146.5 538.9,146.0 540.2,145.5 541.5,145.0 542.8,144.5 544.1,144.0 545.5,143.5 546.8,143.0 548.1,142.6 549.4,142.1 550.7,141.6 552.1,141.2 553.4,140.7 554.7,140.1 555.9,139.6 557.2,139.0 558.4,138.3 559.7,137.7 561.0,137.1 562.2,136.6 563.5,136.0 564.8,135.5 566.1,134.9 567.4,134.4 568.7,133.8 570.0,133.3 571.3,132.7 572.5,132.2 573.8,131.6 575.1,131.0 576.4,130.5 577.7,129.9 578.9,129.3 580.2,128.7 581.5,128.2 582.8,127.6 584.1,127.1 585.4,126.5 586.7,126.0 588.0,125.5 589.3,125.0 590.6,124.5 591.9,124.0 593.2,123.4 594.5,122.9 595.8,122.4 597.1,121.9 598.4,121.4 599.7,120.9 601.0,120.4 602.3,119.9 603.6,119.3 604.9,118.8 606.2,118.3 607.5,117.8 608.8,117.2 610.1,116.7 611.4,116.2 612.7,115.6 613.9,115.0 615.2,114.5 616.5,113.9 617.8,113.3 619.0,112.8 620.3,112.2 621.6,111.6 622.9,111.0 624.1,110.4 625.3,109.7 626.6,109.1 627.8,108.4 629.0,107.7 630.3,107.1 631.5,106.5 632.8,105.8 634.1,105.2 635.3,104.6 636.6,104.0 637.8,103.3 639.0,102.6 640.2,102.0 641.5,101.3 642.7,100.6 643.9,99.9 645.1,99.2 646.3,98.4 647.4,97.6 648.6,96.8 649.7,96.0 650.8,95.2 652.0,94.4 653.1,93.5 654.1,92.6 655.1,91.6 656.1,90.7 657.1,89.7 658.1,88.7 659.1,87.7 660.1,86.7 661.1,85.7 662.1,84.7 663.1,83.8 664.2,82.8 665.2,81.9 666.2,80.9 667.1,79.9 667.9,78.8 668.7,77.6 669.5,76.4 670.2,75.2 671.0,74.1 671.7,72.9 672.4,71.7 673.1,70.4 673.8,69.2 674.4,68.0 675.0,66.7 675.5,65.4 676.0,64.1 676.4,62.8 676.8,61.4 677.2,60.1 677.5,58.7 677.7,57.4 677.9,56.0 678.1,54.6 678.2,53.2 678.4,51.8 678.6,50.4 678.7,49.0 678.9,47.6 679.0,46.2 679.2,44.8 679.4,43.5 679.5,42.1 679.7,40.7 679.9,39.3 680.0,37.9 680.2,36.5 680.3,35.1 680.4,33.7 680.5,32.3 680.5,30.9 680.6,29.5 680.7,28.1 680.7,26.7 680.8,25.3 680.9,23.9 680.9,22.5 681.0,21.1 681.1,19.7 681.1,18.3 681.2,16.9 681.3,15.5 681.3,14.1 681.4,12.7 681.5,11.3 681.5,9.9 681.6,8.6 681.7,7.2 681.7,6.1 681.8,4.6 681.8,4.6" fill="none" stroke="#33cc33" stroke-width="2.4" stroke-linejoin="round" stroke-linecap="butt" stroke-dasharray="2 2"/>
<polyline points="407.1,311.0 407.3,309.3 407.4,308.1 407.5,306.8 407.6,305.4 407.7,304.0 407.9,302.6 408.0,301.2 408.1,299.8 408.2,298.5 408.4,297.1 408.5,295.7 408.6,294.3 408.8,292.9 408.9,291.5 409.0,290.1 409.1,288.7 409.3,287.3 409.4,285.9 409.6,284.5 409.8,283.1 410.0,281.8 410.2,280.4 410.5,279.0 410.7,277.6 410.9,276.2 411.2,274.8 411.4,273.5 411.7,272.1 411.9,270.7 412.2,269.4 412.6,268.0 413.0,266.7 413.3,265.3 413.7,264.0 414.1,262.6 414.6,261.3 415.1,260.0 415.7,258.7 416.2,257.4 416.8,256.2 417.4,254.9 418.0,253.7 418.6,252.4 419.2,251.1 419.8,249.9 420.3,248.6 420.8,247.2 421.2,245.9 421.6,244.6 422.1,243.2 422.5,241.9 423.0,240.6 423.5,239.3 424.1,238.1 424.7,236.8 425.4,235.5 426.0,234.3 426.7,233.1 427.5,231.9 428.3,230.8 429.2,229.8 430.1,228.7 431.1,227.7 432.0,226.6 432.9,225.5 433.7,224.4 434.6,223.3 435.5,222.2 436.3,221.1 437.2,220.0 438.1,218.9 438.9,217.8 439.8,216.7 440.7,215.6 441.6,214.6 442.5,213.5 443.4,212.5 444.4,211.5 445.3,210.4 446.3,209.5 447.4,208.5 448.4,207.6 449.6,206.8 450.7,206.0 451.8,205.2 453.0,204.4 454.1,203.6 455.3,202.8 456.4,202.0 457.6,201.1 458.7,200.4 459.9,199.6 461.0,198.8 462.2,198.0 463.4,197.2 464.5,196.5 465.7,195.7 466.9,194.9 468.0,194.2 469.2,193.4 470.4,192.7 471.6,191.9 472.7,191.1 473.9,190.3 475.1,189.6 476.2,188.8 477.4,188.0 478.5,187.2 479.7,186.4 480.8,185.6 482.0,184.8 483.2,184.1 484.3,183.3 485.5,182.5 486.7,181.8 487.9,181.0 489.1,180.3 490.2,179.5 491.4,178.8 492.7,178.2 493.9,177.5 495.2,177.0 496.5,176.4 497.7,175.8 499.0,175.2 500.3,174.6 501.6,174.0 502.8,173.4 504.1,172.8 505.4,172.2 506.6,171.6 507.9,171.0 509.1,170.3 510.4,169.7 511.6,169.1 512.9,168.4 514.1,167.8 515.3,167.1 516.4,166.3 517.6,165.5 518.7,164.7 519.9,163.9 521.1,163.2 522.3,162.5 523.5,161.8 524.8,161.2 526.0,160.5 527.3,159.9 528.5,159.2 529.7,158.6 531.0,158.0 532.2,157.3 533.5,156.8 534.8,156.2 536.1,155.6 537.3,155.0 538.6,154.5 539.9,153.9 541.2,153.3 542.5,152.8 543.8,152.3 545.1,151.8 546.4,151.4 547.8,151.0 549.1,150.6 550.5,150.2 551.8,149.8 553.1,149.4 554.5,149.0 555.8,148.5 557.1,148.1 558.4,147.6 559.8,147.1 561.0,146.6 562.3,146.0 563.6,145.5 564.9,144.9 566.2,144.3 567.4,143.8 568.7,143.2 570.0,142.6 571.3,142.0 572.5,141.4 573.8,140.8 575.0,140.2 576.3,139.6 577.5,138.9 578.8,138.3 580.1,137.7 581.3,137.0 582.6,136.4 583.8,135.8 585.1,135.2 586.3,134.5 587.6,133.9 588.8,133.3 590.1,132.7 591.3,132.0 592.6,131.4 593.8,130.8 595.1,130.2 596.3,129.6 597.6,129.0 598.9,128.4 600.1,127.8 601.4,127.2 602.7,126.6 603.9,126.0 605.2,125.4 606.5,124.8 607.8,124.3 609.0,123.7 610.3,123.1 611.6,122.5 612.8,121.8 614.0,121.1 615.3,120.5 616.5,119.8 617.7,119.1 618.9,118.4 620.2,117.8 621.4,117.1 622.6,116.4 623.8,115.7 625.1,115.1 626.3,114.4 627.5,113.7 628.7,113.0 630.0,112.4 631.2,111.7 632.4,111.0 633.6,110.3 634.9,109.6 636.0,108.9 637.2,108.1 638.4,107.4 639.6,106.6 640.8,105.9 641.9,105.1 643.1,104.3 644.3,103.6 645.5,102.8 646.6,102.0 647.8,101.3 649.0,100.5 650.1,99.7 651.2,98.8 652.3,98.0 653.4,97.1 654.5,96.2 655.6,95.3 656.7,94.5 657.8,93.6 658.8,92.7 659.9,91.8 660.9,90.8 661.9,89.9 662.9,88.8 663.8,87.8 664.6,86.7 665.5,85.6 666.3,84.4 667.2,83.3 668.0,82.2 668.8,81.0 669.6,79.9 670.3,78.7 671.0,77.5 671.7,76.3 672.3,75.0 672.9,73.8 673.5,72.5 674.1,71.2 674.6,69.9 675.1,68.6 675.5,67.3 676.0,65.9 676.4,64.6 676.9,63.3 677.3,62.0 677.7,60.6 678.1,59.3 678.5,57.9 678.8,56.6 678.9,55.2 679.1,53.8 679.2,52.4 679.3,51.0 679.4,49.6 679.6,48.2 679.7,46.8 679.8,45.4 679.9,44.0 680.0,42.6 680.1,41.2 680.2,39.8 680.3,38.5 680.4,37.1 680.5,35.7 680.5,34.3 680.6,32.9 680.7,31.5 680.7,30.1 680.8,28.7 680.8,27.3 680.9,25.9 680.9,24.5 681.0,23.1 681.0,21.7 681.1,20.3 681.1,18.9 681.2,17.5 681.3,16.1 681.3,14.7 681.4,13.3 681.5,11.9 681.5,10.5 681.6,9.1 681.6,7.7 681.7,6.5 681.8,5.5 681.8,4.6" fill="none" stroke="#ff00ff" stroke-width="2.4" stroke-linejoin="round" stroke-linecap="butt" stroke-dasharray="5.5 3.2 1.6 3.4 1.6 3.4 1.6 3.3"/>
</g>
<rect x="45.0" y="5.0" width="273.00" height="297.00" fill="none" stroke="#1a1a1a" stroke-width="1.5"/>
<rect x="400.0" y="5.0" width="282.00" height="305.00" fill="none" stroke="#1a1a1a" stroke-width="1.5"/>
<path d="M45.0,302.00h8.2 M45.0,282.60h4.1 M45.0,271.25h4.1 M45.0,263.20h4.1 M45.0,256.95h4.1 M45.0,251.85h4.1 M45.0,247.53h4.1 M45.0,243.80h4.1 M45.0,240.50h4.1 M45.0,237.55h8.2 M45.0,218.15h4.1 M45.0,206.80h4.1 M45.0,198.75h4.1 M45.0,192.50h4.1 M45.0,187.40h4.1 M45.0,183.08h4.1 M45.0,179.35h4.1 M45.0,176.05h4.1 M45.0,173.10h8.2 M45.0,153.70h4.1 M45.0,142.35h4.1 M45.0,134.30h4.1 M45.0,128.05h4.1 M45.0,122.95h4.1 M45.0,118.63h4.1 M45.0,114.90h4.1 M45.0,111.60h4.1 M45.0,108.65h8.2 M45.0,89.25h4.1 M45.0,77.90h4.1 M45.0,69.85h4.1 M45.0,63.60h4.1 M45.0,58.50h4.1 M45.0,54.18h4.1 M45.0,50.45h4.1 M45.0,47.15h4.1 M45.0,44.20h8.2 M45.0,24.80h4.1 M45.0,13.45h4.1 M45.0,5.40h4.1 M400.0,310.00h8.2 M400.0,294.68h4.1 M400.0,285.71h4.1 M400.0,279.36h4.1 M400.0,274.42h4.1 M400.0,270.39h4.1 M400.0,266.98h4.1 M400.0,264.03h4.1 M400.0,261.43h4.1 M400.0,259.10h8.2 M400.0,243.78h4.1 M400.0,234.81h4.1 M400.0,228.46h4.1 M400.0,223.52h4.1 M400.0,219.49h4.1 M400.0,216.08h4.1 M400.0,213.13h4.1 M400.0,210.53h4.1 M400.0,208.20h8.2 M400.0,192.88h4.1 M400.0,183.91h4.1 M400.0,177.56h4.1 M400.0,172.62h4.1 M400.0,168.59h4.1 M400.0,165.18h4.1 M400.0,162.23h4.1 M400.0,159.63h4.1 M400.0,157.30h8.2 M400.0,141.98h4.1 M400.0,133.01h4.1 M400.0,126.66h4.1 M400.0,121.72h4.1 M400.0,117.69h4.1 M400.0,114.28h4.1 M400.0,111.33h4.1 M400.0,108.73h4.1 M400.0,106.40h8.2 M400.0,91.08h4.1 M400.0,82.11h4.1 M400.0,75.76h4.1 M400.0,70.82h4.1 M400.0,66.79h4.1 M400.0,63.38h4.1 M400.0,60.43h4.1 M400.0,57.83h4.1 M400.0,55.50h8.2 M400.0,40.18h4.1 M400.0,31.21h4.1 M400.0,24.86h4.1 M400.0,19.92h4.1 M400.0,15.89h4.1 M400.0,12.48h4.1 M400.0,9.53h4.1 M400.0,6.93h4.1 M400.0,4.60h8.2 M44.70,302.0v-4.1 M54.45,302.0v-4.1 M64.20,302.0v-8.2 M73.95,302.0v-4.1 M83.70,302.0v-4.1 M93.45,302.0v-4.1 M103.20,302.0v-8.2 M112.95,302.0v-4.1 M122.70,302.0v-4.1 M132.45,302.0v-4.1 M142.20,302.0v-8.2 M151.95,302.0v-4.1 M161.70,302.0v-4.1 M171.45,302.0v-4.1 M181.20,302.0v-8.2 M190.95,302.0v-4.1 M200.70,302.0v-4.1 M210.45,302.0v-4.1 M220.20,302.0v-8.2 M229.95,302.0v-4.1 M239.70,302.0v-4.1 M249.45,302.0v-4.1 M259.20,302.0v-8.2 M268.95,302.0v-4.1 M278.70,302.0v-4.1 M288.45,302.0v-4.1 M298.20,302.0v-8.2 M307.95,302.0v-4.1 M317.70,302.0v-4.1 M399.80,310.0v-8.2 M413.89,310.0v-4.1 M427.98,310.0v-4.1 M442.07,310.0v-4.1 M456.16,310.0v-8.2 M470.25,310.0v-4.1 M484.34,310.0v-4.1 M498.43,310.0v-4.1 M512.52,310.0v-8.2 M526.61,310.0v-4.1 M540.70,310.0v-4.1 M554.79,310.0v-4.1 M568.88,310.0v-8.2 M582.97,310.0v-4.1 M597.06,310.0v-4.1 M611.15,310.0v-4.1 M625.24,310.0v-8.2 M639.33,310.0v-4.1 M653.42,310.0v-4.1 M667.51,310.0v-4.1 M681.60,310.0v-8.2" stroke="#1a1a1a" stroke-width="1.5" fill="none"/>
<rect x="63.2" y="12.5" width="247.3" height="48.7" fill="#fff" stroke="#1a1a1a" stroke-width="1.5"/>
<line x1="67.3" y1="24.9" x2="89.5" y2="24.9" stroke="#ff0000" stroke-width="2.4"/>
<text x="92.6" y="29.65" font-family='"Liberation Sans", sans-serif' font-size="11.5" fill="#000" stroke="#000" stroke-width="0.1">QGSJET-II-03</text>
<line x1="190.5" y1="24.9" x2="211" y2="24.9" stroke="#0000ff" stroke-width="2.4" stroke-dasharray="4 3.6"/>
<text x="215.6" y="29.65" font-family='"Liberation Sans", sans-serif' font-size="11.5" fill="#000" stroke="#000" stroke-width="0.1">QGSJET-II-04</text>
<line x1="67.3" y1="49.4" x2="89.5" y2="49.4" stroke="#33cc33" stroke-width="2.4" stroke-dasharray="2 2"/>
<text x="92.6" y="54.15" font-family='"Liberation Sans", sans-serif' font-size="11.5" fill="#000" stroke="#000" stroke-width="0.1">EPOS-LHC</text>
<line x1="190.5" y1="49.4" x2="212.5" y2="49.4" stroke="#ff00ff" stroke-width="2.4" stroke-dasharray="5.5 3.2 1.6 3.4 1.6 3.4 1.6 3.3"/>
<text x="215.6" y="54.15" font-family='"Liberation Sans", sans-serif' font-size="11.5" fill="#000" stroke="#000" stroke-width="0.1">SIBYLL2.3c</text>
<rect x="408.8" y="12.3" width="255.0" height="48.9" fill="#fff" stroke="#1a1a1a" stroke-width="1.5"/>
<line x1="413.8" y1="24.9" x2="436.0" y2="24.9" stroke="#ff0000" stroke-width="2.4"/>
<text x="440.0" y="29.65" font-family='"Liberation Sans", sans-serif' font-size="11.5" fill="#000" stroke="#000" stroke-width="0.1">QGSJET-II-03</text>
<line x1="540.3" y1="24.9" x2="560.6" y2="24.9" stroke="#0000ff" stroke-width="2.4" stroke-dasharray="4 3.6"/>
<text x="567.0" y="29.65" font-family='"Liberation Sans", sans-serif' font-size="11.5" fill="#000" stroke="#000" stroke-width="0.1">QGSJET-II-04</text>
<line x1="413.8" y1="49.4" x2="436.0" y2="49.4" stroke="#33cc33" stroke-width="2.4" stroke-dasharray="2 2"/>
<text x="440.0" y="54.15" font-family='"Liberation Sans", sans-serif' font-size="11.5" fill="#000" stroke="#000" stroke-width="0.1">EPOS-LHC</text>
<line x1="540.3" y1="49.4" x2="562.0" y2="49.4" stroke="#ff00ff" stroke-width="2.4" stroke-dasharray="5.5 3.2 1.6 3.4 1.6 3.4 1.6 3.3"/>
<text x="567.0" y="54.15" font-family='"Liberation Sans", sans-serif' font-size="11.5" fill="#000" stroke="#000" stroke-width="0.1">SIBYLL2.3c</text>
<text x="42.20" y="51.10" font-family='"Liberation Sans", sans-serif' font-size="15" text-anchor="end" fill="#000" stroke="#000" stroke-width="0.1">10<tspan font-size="10" dy="-6.2">−1</tspan></text>
<text x="41.60" y="115.55" font-family='"Liberation Sans", sans-serif' font-size="15" text-anchor="end" fill="#000" stroke="#000" stroke-width="0.1">10<tspan font-size="10" dy="-6.2">−2</tspan></text>
<text x="41.60" y="180.00" font-family='"Liberation Sans", sans-serif' font-size="15" text-anchor="end" fill="#000" stroke="#000" stroke-width="0.1">10<tspan font-size="10" dy="-6.2">−3</tspan></text>
<text x="41.60" y="244.45" font-family='"Liberation Sans", sans-serif' font-size="15" text-anchor="end" fill="#000" stroke="#000" stroke-width="0.1">10<tspan font-size="10" dy="-6.2">−4</tspan></text>
<text x="41.60" y="308.90" font-family='"Liberation Sans", sans-serif' font-size="15" text-anchor="end" fill="#000" stroke="#000" stroke-width="0.1">10<tspan font-size="10" dy="-6.2">−5</tspan></text>
<text x="397.50" y="62.40" font-family='"Liberation Sans", sans-serif' font-size="15" text-anchor="end" fill="#000" stroke="#000" stroke-width="0.1">10<tspan font-size="10" dy="-6.2">−1</tspan></text>
<text x="396.90" y="113.30" font-family='"Liberation Sans", sans-serif' font-size="15" text-anchor="end" fill="#000" stroke="#000" stroke-width="0.1">10<tspan font-size="10" dy="-6.2">−2</tspan></text>
<text x="396.90" y="164.20" font-family='"Liberation Sans", sans-serif' font-size="15" text-anchor="end" fill="#000" stroke="#000" stroke-width="0.1">10<tspan font-size="10" dy="-6.2">−3</tspan></text>
<text x="396.90" y="215.10" font-family='"Liberation Sans", sans-serif' font-size="15" text-anchor="end" fill="#000" stroke="#000" stroke-width="0.1">10<tspan font-size="10" dy="-6.2">−4</tspan></text>
<text x="396.90" y="266.00" font-family='"Liberation Sans", sans-serif' font-size="15" text-anchor="end" fill="#000" stroke="#000" stroke-width="0.1">10<tspan font-size="10" dy="-6.2">−5</tspan></text>
<text x="396.90" y="316.90" font-family='"Liberation Sans", sans-serif' font-size="15" text-anchor="end" fill="#000" stroke="#000" stroke-width="0.1">10<tspan font-size="10" dy="-6.2">−6</tspan></text>
<text x="397.70" y="10.40" font-family='"Liberation Sans", sans-serif' font-size="15" text-anchor="end" fill="#000" stroke="#000" stroke-width="0.1" font-weight="normal">1</text>
<text x="63.20" y="317.60" font-family='"Liberation Sans", sans-serif' font-size="15" text-anchor="middle" fill="#000" stroke="#000" stroke-width="0.1" font-weight="normal">−0.6</text>
<text x="102.20" y="317.60" font-family='"Liberation Sans", sans-serif' font-size="15" text-anchor="middle" fill="#000" stroke="#000" stroke-width="0.1" font-weight="normal">−0.4</text>
<text x="141.20" y="317.60" font-family='"Liberation Sans", sans-serif' font-size="15" text-anchor="middle" fill="#000" stroke="#000" stroke-width="0.1" font-weight="normal">−0.2</text>
<text x="181.20" y="317.60" font-family='"Liberation Sans", sans-serif' font-size="15" text-anchor="middle" fill="#000" stroke="#000" stroke-width="0.1" font-weight="normal">0</text>
<text x="220.20" y="317.60" font-family='"Liberation Sans", sans-serif' font-size="15" text-anchor="middle" fill="#000" stroke="#000" stroke-width="0.1" font-weight="normal">0.2</text>
<text x="259.20" y="317.60" font-family='"Liberation Sans", sans-serif' font-size="15" text-anchor="middle" fill="#000" stroke="#000" stroke-width="0.1" font-weight="normal">0.4</text>
<text x="298.20" y="317.60" font-family='"Liberation Sans", sans-serif' font-size="15" text-anchor="middle" fill="#000" stroke="#000" stroke-width="0.1" font-weight="normal">0.6</text>
<text x="399.80" y="325.30" font-family='"Liberation Sans", sans-serif' font-size="15" text-anchor="middle" fill="#000" stroke="#000" stroke-width="0.1" font-weight="normal">0</text>
<text x="456.16" y="325.30" font-family='"Liberation Sans", sans-serif' font-size="15" text-anchor="middle" fill="#000" stroke="#000" stroke-width="0.1" font-weight="normal">0.2</text>
<text x="512.52" y="325.30" font-family='"Liberation Sans", sans-serif' font-size="15" text-anchor="middle" fill="#000" stroke="#000" stroke-width="0.1" font-weight="normal">0.4</text>
<text x="568.88" y="325.30" font-family='"Liberation Sans", sans-serif' font-size="15" text-anchor="middle" fill="#000" stroke="#000" stroke-width="0.1" font-weight="normal">0.6</text>
<text x="625.24" y="325.30" font-family='"Liberation Sans", sans-serif' font-size="15" text-anchor="middle" fill="#000" stroke="#000" stroke-width="0.1" font-weight="normal">0.8</text>
<text x="681.60" y="325.30" font-family='"Liberation Sans", sans-serif' font-size="15" text-anchor="middle" fill="#000" stroke="#000" stroke-width="0.1" font-weight="normal">1</text>
<text x="318.00" y="333.60" font-family='"Liberation Sans", sans-serif' font-size="15.4" text-anchor="end" fill="#000" stroke="#000" stroke-width="0.1" font-weight="normal">BDT response</text>
<text x="681.20" y="340.80" font-family='"Liberation Sans", sans-serif' font-size="15.4" text-anchor="end" fill="#000" stroke="#000" stroke-width="0.1" font-weight="normal">Signal (gamma) acceptance</text>
<text transform="translate(11.8,3.6) rotate(-90)" font-family='"Liberation Sans", sans-serif' font-size="15.4" text-anchor="end" fill="#000" stroke="#000" stroke-width="0.1">Entries (arbitrary unit)</text>
<text transform="translate(367.2,3.6) rotate(-90)" font-family='"Liberation Sans", sans-serif' font-size="15.4" text-anchor="end" fill="#000" stroke="#000" stroke-width="0.1">Background (proton) acceptance</text>
<text x="88.20" y="121.50" font-family='"Liberation Sans", sans-serif' font-size="15" text-anchor="start" fill="#444" stroke="#444" stroke-width="0.1" font-weight="bold">proton</text>
<text x="219.80" y="121.80" font-family='"Liberation Sans", sans-serif' font-size="15" text-anchor="start" fill="#444" stroke="#444" stroke-width="0.1" font-weight="bold">gamma</text>
</svg>
</body></html>
